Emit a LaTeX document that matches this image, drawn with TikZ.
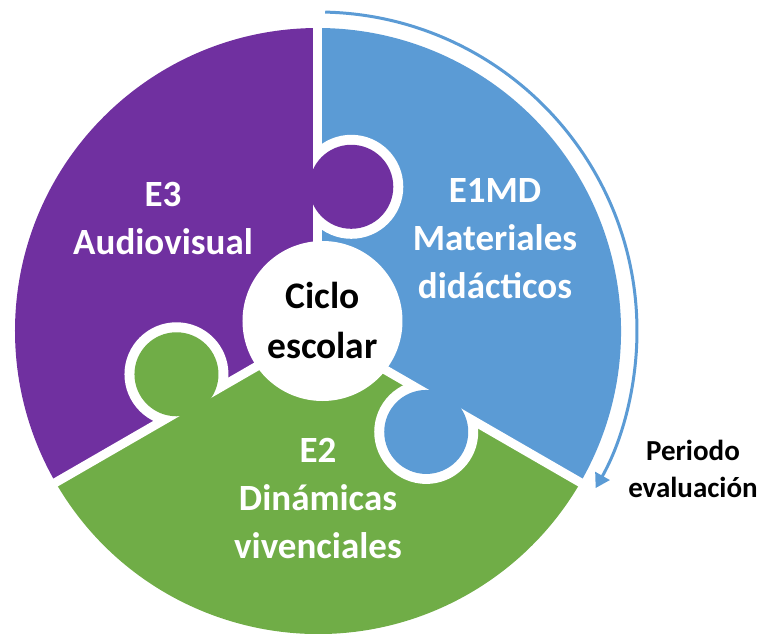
\documentclass[tikz,border=0pt]{standalone}
\usepackage{fontspec}
\setmainfont{Carlito}
\usetikzlibrary{arrows.meta}
\definecolor{mor}{HTML}{7030A0}
\definecolor{azu}{HTML}{5B9BD5}
\definecolor{ver}{HTML}{70AD47}
\tikzset{gap/.style={line width=9pt, white}}
\tikzset{etapa/.style={white, font=\fontsize{37}{48}\selectfont\bfseries, align=center}}
\tikzset{ciclo/.style={black, font=\fontsize{37.5}{50}\selectfont\bfseries, align=center}}
\tikzset{periodo/.style={black, font=\fontsize{29}{37}\selectfont\bfseries, align=center}}
\tikzset{flecha/.style={line width=3pt, azu, -{Triangle[length=14pt, width=16pt]}}}
\newcommand{\drawsector}[2]{\fill[#2] (0,0) -- (#1:303) arc[start angle=#1, end angle=#1+120, radius=303] -- cycle}
\newcommand{\drawring}[1]{\begin{scope}
 \clip (0,0) -- (#1:400) arc[start angle=#1, end angle=#1-120, radius=400] -- cycle;
 \fill[white] ({#1-13}:148) circle[radius=52];
 \end{scope}}
\newcommand{\drawtab}[2]{\fill[#2] ({#1-13}:148) circle[radius=42]}

\begin{document}
\begin{tikzpicture}[x=1pt, y=1pt]
		\useasboundingbox (-318,-302) rectangle (443,331);
		% Coordinates
		\coordinate (O) at (0,0);
		\coordinate (C) at (4.5,10);

		% Sectors
		\drawsector{-30}{azu};
		\drawsector{90}{mor};
		\drawsector{210}{ver};

		% Tabs
		\drawring{90}
		\drawring{210}
		\drawring{330}
		\draw[gap] (O) -- (90:310);
		\draw[gap] (O) -- (210:310);
		\draw[gap] (O) -- (330:310);
		\drawtab{90}{mor};
		\drawtab{210}{ver};
		\drawtab{330}{azu};

		% Centre
		\fill[white] (C) circle[radius=80];

		% Arrow
		\draw[flecha] (88.7:319) arc[start angle=88.7, end angle=-29.5, radius=319];

		% Labels
		\node[etapa] (e3) at (-155,112) {E3\\Audiovisual};
		\node[etapa] (e1) at (177,92.7) {E1MD\\Materiales\\didácticos};
		\node[etapa] (e2) at (0,-167.8) {E2\\Dinámicas\\vivenciales};
		\node[ciclo] (ciclo) at (4.5,11) {Ciclo\\escolar};
		\node[periodo] (periodo) at (375,-137.5) {Periodo\\evaluación};
	\end{tikzpicture}
\end{document}
